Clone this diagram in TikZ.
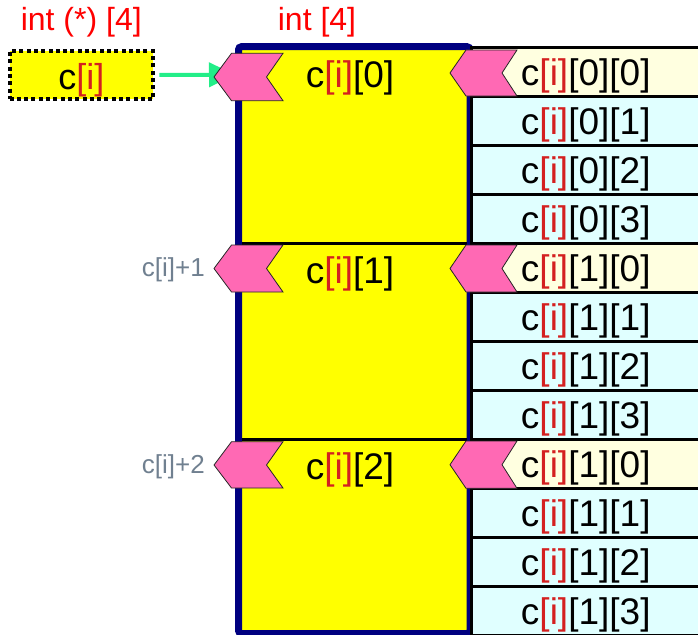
\documentclass[tikz,border=0pt]{standalone}
\usepackage{fontspec}
\setmainfont{Liberation Sans}
\usetikzlibrary{arrows.meta}
\definecolor{hpink}{HTML}{FF69B4}
\definecolor{lyellow}{HTML}{FFFFE0}
\definecolor{lcyan}{HTML}{E0FFFF}
\definecolor{navyb}{HTML}{000080}
\definecolor{byellow}{HTML}{FFFF00}
\definecolor{ired}{HTML}{D42020}
\definecolor{tred}{HTML}{FF0000}
\definecolor{arrgreen}{HTML}{22EE88}
\definecolor{lgray}{HTML}{708090}
\newcommand\ci{c\textcolor{ired}{[i]}}
\tikzset{
  titletext/.style={anchor=base, inner sep=0pt, text=tred, font=\fontsize{32}{36}\selectfont},
  sectext/.style={anchor=base, inner sep=0pt, font=\fontsize{37}{40}\selectfont},
  offtext/.style={anchor=base, inner sep=0pt, text=lgray, font=\fontsize{26}{30}\selectfont},
  ptrbox/.style={draw=black, fill=byellow, line width=4pt, dash pattern=on 4pt off 3.3pt,
    minimum width=143.8pt, minimum height=47.4pt, inner sep=0pt,
    text height=28pt, text depth=0pt, font=\fontsize{36}{40}\selectfont},
  cellbox/.style={draw=black, line width=3pt, minimum width=228.5pt, minimum height=49pt,
    inner sep=0pt, text height=27pt, text depth=0pt, font=\fontsize{37}{40}\selectfont},
  firstcell/.style={cellbox, fill=lyellow},
  othercell/.style={cellbox, fill=lcyan},
  chevron/.style={draw=black!85, line width=0.8pt, fill=hpink, line join=miter},
  ptrarrow/.style={draw=arrgreen, line width=4pt, -{Triangle[length=26pt,width=24pt]}, shorten <=4pt},
}
\begin{document}
\begin{tikzpicture}[x=1pt,y=-1pt]
\useasboundingbox (0,0) rectangle (698,634);
\clip (0,0) rectangle (698,634);

% titles
\node[titletext] (t1) at (81.3,30.6) {int (*) [4]};
\node[titletext] (t2) at (317,30.6) {int [4]};

% pointer box
\node[ptrbox] (ptr) at (81.4,75) {\ci};

% big array box
\draw[navyb, line width=7pt, rounded corners=3pt, fill=byellow] (238.5,46.7) rectangle (470,633.5);
\draw[black, line width=3pt] (242,243.5) -- (467,243.5);
\draw[black, line width=3pt] (242,439.5) -- (467,439.5);

% cells
\foreach \s in {0,1,2}{
  \foreach \r in {0,1,2,3}{
    \pgfmathtruncatemacro{\k}{4*\s+\r}
    \pgfmathsetmacro{\yc}{72+49*\k}
    \pgfmathtruncatemacro{\lab}{\s==2 ? 1 : \s}
    \ifnum\r=0
      \node[firstcell] (cell\k) at (585.75,\yc) {\ci[\lab][\r]};
    \else
      \node[othercell] (cell\k) at (585.75,\yc) {\ci[\lab][\r]};
    \fi
  }
}

% pointer arrow (drawn under the chevron)
\coordinate (tipA) at (235,74.7);
\draw[ptrarrow] (ptr.east) -- (tipA);

% left chevrons
\draw[chevron] (214,77) -- (231.5,53.3) -- (283,53.3) -- (266.5,77) -- (283,100.7) -- (231.5,100.7) -- cycle;
\draw[chevron] (214,268.5) -- (231.5,245) -- (283,245) -- (266.5,268.5) -- (283,292) -- (231.5,292) -- cycle;
\draw[chevron] (214,465) -- (231.5,441.7) -- (283,441.7) -- (266.5,465) -- (283,488) -- (231.5,488) -- cycle;

% right chevrons
\draw[chevron] (450,73) -- (466,50) -- (517,50) -- (502,73) -- (517,96) -- (466,96) -- cycle;
\draw[chevron] (450,268.5) -- (466,245) -- (517,245) -- (502,268.5) -- (517,292) -- (466,292) -- cycle;
\draw[chevron] (450,464.7) -- (466,441) -- (517,441) -- (502,464.7) -- (517,488.3) -- (466,488.3) -- cycle;

% section labels
\node[sectext] (s0) at (350,87) {\ci[0]};
\node[sectext] (s1) at (350,283) {\ci[1]};
\node[sectext] (s2) at (350,479) {\ci[2]};

% offset labels
\node[offtext] (o1) at (173.3,276) {c[i]+1};
\node[offtext] (o2) at (173.3,473) {c[i]+2};
\end{tikzpicture}
\end{document}
